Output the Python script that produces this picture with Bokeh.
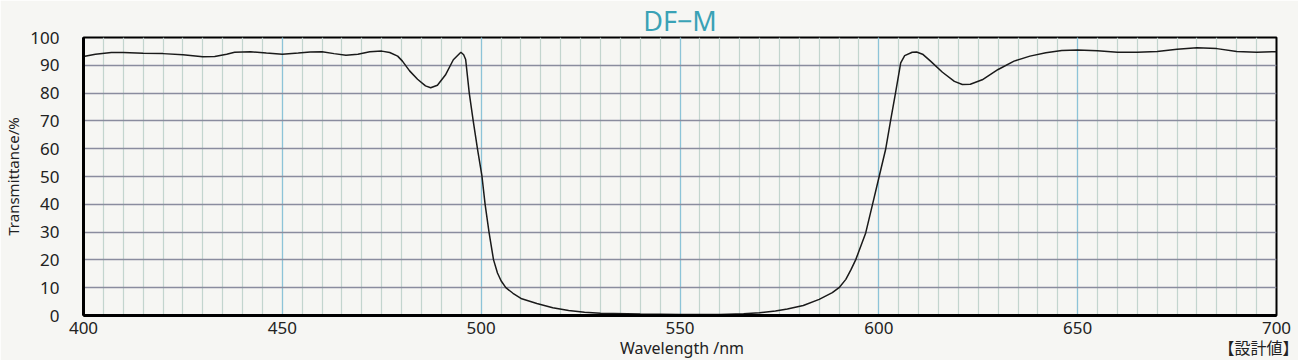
from bokeh.plotting import figure
from bokeh.models import Range1d, SingleIntervalTicker, FixedTicker, LinearAxis
from bokeh.embed import file_html
from bokeh.resources import INLINE

title_text = "DF\u2212M"
x_label = "Wavelength /nm"
y_label = "Transmittance/%"
note_text = "\u3010設計値\u3011"

wavelength = [400, 403, 407, 410, 415, 420, 425, 430, 433, 436, 438, 442, 446, 450,
              454, 457, 460, 463, 466, 469, 472, 475, 477, 479, 480.2, 482, 484, 486,
              487.3, 489, 491, 493, 494.9, 495.6, 496.1, 497, 498, 499.1, 500.2, 501,
              502, 503.1, 504.1, 505, 506.2, 508, 510.2, 514, 518, 522, 526, 530, 540,
              550, 560, 566, 570, 574, 577, 581, 585, 588.3, 590, 591.7, 593, 594.2,
              596.7, 598.4, 600.1, 601.7, 603, 604.2, 605.5, 606.5, 608.4, 609.5, 611,
              613, 616, 619, 621, 623, 626, 630, 634, 638, 642, 646, 650, 655, 660, 665,
              670, 675, 680, 685, 690, 695, 700]
transmittance = [93.2, 94.0, 94.6, 94.6, 94.3, 94.2, 93.8, 93.1, 93.2, 94.0, 94.7, 94.9,
                 94.4, 94.0, 94.4, 94.8, 94.9, 94.2, 93.6, 94.0, 94.9, 95.1, 94.6, 93.3,
                 91.5, 88.0, 85.0, 82.6, 81.9, 82.8, 86.5, 92.0, 94.7, 93.8, 92.1, 80.1,
                 70.0, 59.7, 50.1, 39.9, 29.7, 20.1, 15.3, 12.5, 10.0, 8.0, 6.0, 4.3, 2.8,
                 1.8, 1.2, 0.8, 0.5, 0.4, 0.4, 0.6, 1.0, 1.6, 2.3, 3.6, 5.8, 8.2, 10.0,
                 13.0, 16.5, 20.1, 29.7, 39.9, 50.1, 59.7, 70.5, 80.1, 90.9, 93.5, 94.7,
                 94.8, 94.0, 91.5, 87.5, 84.2, 83.1, 83.2, 84.8, 88.5, 91.5, 93.3, 94.5,
                 95.3, 95.5, 95.2, 94.7, 94.7, 95.0, 95.8, 96.3, 96.0, 95.0, 94.7, 94.9]

BG = "#f6f6f3"
XLABEL_POS = 550.5   # horizontal anchors of the bottom texts, in axis units
NOTE_POS = 696.0

p = figure(frame_width=1193, frame_height=278,
           x_range=Range1d(400, 700), y_range=Range1d(0, 100),
           output_backend="svg", toolbar_location=None,
           min_border_left=73, min_border_right=22, min_border_top=0, min_border_bottom=0,
           background_fill_color=BG, border_fill_color=BG)

p.title.text = title_text
p.title.align = "center"
p.title.text_font = "Noto Sans"
p.title.text_font_size = "27px"
p.title.text_font_style = "normal"
p.title.text_color = "#3aa2b6"
p.title.standoff = -2

p.outline_line_color = "black"
p.outline_line_width = 2

xt = SingleIntervalTicker(interval=50, num_minor_ticks=10)
yt = SingleIntervalTicker(interval=10, num_minor_ticks=0)
p.xaxis.ticker = xt
p.yaxis.ticker = yt
p.xgrid.ticker = xt
p.ygrid.ticker = yt

p.xgrid.grid_line_color = "#8cc4d8"
p.xgrid.grid_line_width = 1.2
p.xgrid.minor_grid_line_color = "#c3d5ce"
p.xgrid.minor_grid_line_width = 1.2
p.ygrid.grid_line_color = "#8a8c9e"
p.ygrid.grid_line_width = 1.6

for ax in (p.xaxis[0], p.yaxis[0]):
    ax.axis_line_color = "black"
    ax.axis_line_width = 3
    ax.major_tick_line_color = None
    ax.minor_tick_line_color = None
    ax.major_label_text_font = "Noto Sans"
    ax.major_label_text_font_size = "17px"
    ax.major_label_text_color = "#222222"
    ax.axis_label_text_font = "Noto Sans"
    ax.axis_label_text_font_style = "normal"
    ax.axis_label_text_color = "#222222"

p.xaxis.major_label_standoff = 0
# tiny blank axis label with negative standoff: pulls the caption row up
p.xaxis.axis_label = " "
p.xaxis.axis_label_text_font_size = "1px"
p.xaxis.axis_label_standoff = -10

p.yaxis.axis_label = y_label
p.yaxis.axis_label_text_font_size = "15px"
p.yaxis.major_label_standoff = 18
p.yaxis.axis_label_standoff = 4

# second, line-less axis below: "Wavelength /nm" and "【設計値】" on one row
caption_axis = LinearAxis(ticker=FixedTicker(ticks=[XLABEL_POS, NOTE_POS], minor_ticks=[]),
                          major_label_overrides={XLABEL_POS: x_label, NOTE_POS: note_text},
                          axis_line_color=None, major_tick_line_color=None,
                          minor_tick_line_color=None, major_label_standoff=0,
                          major_label_text_font="Noto Sans, Noto Sans CJK JP",
                          major_label_text_font_size="16px",
                          major_label_text_color="#222222")
p.add_layout(caption_axis, "below")

p.line(wavelength, transmittance, line_color="#1a1a1a", line_width=1.5)

open("out.html", "w").write(file_html(p, INLINE))
